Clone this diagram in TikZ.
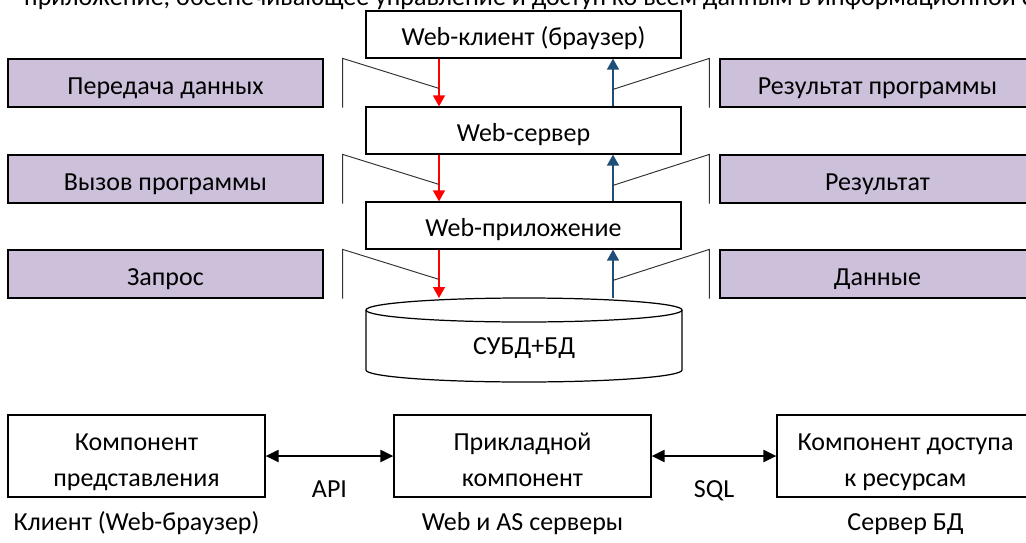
\documentclass[tikz,border=0pt]{standalone}
\usepackage{fontspec}
\setmainfont{Carlito}
\usetikzlibrary{positioning, arrows.meta}

\definecolor{lilac}{RGB}{204,192,218}
\definecolor{upblue}{RGB}{31,78,121}

% struts for the two-line tier boxes
\newcommand\tiertop{\rule{0pt}{0.6cm}}
\newcommand\tierbot{\rule[-0.1cm]{0pt}{0.1cm}}

\tikzset{
  every node/.style={font=\fontsize{14.8}{20.5}\selectfont},
  webbox/.style={draw, line width=0.7pt, minimum width=6.3cm, minimum height=0.94cm, inner sep=0pt, text height=0.42cm, text depth=0pt},
  stagebox/.style={draw, line width=0.7pt, fill=lilac, minimum width=6.3cm, minimum height=0.96cm, inner sep=0pt, text height=0.46cm, text depth=0pt},
  partbox/.style={draw, line width=0.7pt, minimum width=5.14cm, minimum height=1.64cm, align=center, inner sep=0pt},
  reqarrow/.style={red, line width=0.85pt, -{Triangle[length=0.22cm,width=0.24cm]}},
  resarrow/.style={upblue, line width=0.85pt, -{Triangle[length=0.22cm,width=0.24cm]}},
  bracket/.style={draw, line width=0.55pt, black!80},
  linkarrow/.style={line width=1.2pt, {Triangle[length=0.26cm,width=0.24cm]}-{Triangle[length=0.26cm,width=0.24cm]}},
}

\begin{document}
\begin{tikzpicture}
\clip (0,0) rectangle (20.52,10.84);

\node[anchor=base west] (prev) at (0.36,10.73) {приложение, обеспечивающее управление и доступ ко всем данным в информационной системе};

% web chain
\node[webbox] (client) at (10.47,10.15) {Web-клиент (браузер)};
\node[webbox] (server) at (10.47,8.23) {Web-сервер};
\node[webbox] (app) at (10.47,6.33) {Web-приложение};

% database drum
\draw[line width=0.7pt] (7.32,4.64) -- (7.32,3.44) arc[start angle=180, end angle=360, x radius=3.16, y radius=0.24] -- (13.64,4.64);
\draw[line width=0.7pt] (10.48,4.64) ellipse[x radius=3.16, y radius=0.24];
\node (db) at (10.48,3.88) {СУБД+БД};
\coordinate (dbtop) at (10.48,4.88);

\coordinate (down) at (8.78,0);
\coordinate (up) at (12.26,0);

\node[stagebox] (send) at (3.31,9.18) {Передача данных};
\node[stagebox] (call) at (3.31,7.26) {Вызов программы};
\node[stagebox] (query) at (3.31,5.36) {Запрос};
\node[stagebox] (output) at (17.55,9.18) {Результат программы};
\node[stagebox] (result) at (17.55,7.26) {Результат};
\node[stagebox] (data) at (17.55,5.36) {Данные};

\draw[reqarrow] (client.south -| down) -- (server.north -| down);
\draw[reqarrow] (server.south -| down) -- (app.north -| down);
\draw[reqarrow] (app.south -| down) -- (dbtop -| down);
\draw[resarrow] (server.north -| up) -- (client.south -| up);
\draw[resarrow] (app.north -| up) -- (server.south -| up);
\draw[resarrow] (dbtop -| up) -- (app.south -| up);

\foreach \s in {send, call, query}
  \draw[bracket] ([xshift=0.38cm]\s.south east) -- ([xshift=0.38cm]\s.north east) -- ([yshift=-0.6cm]\s.north -| down);
\foreach \s in {output, result, data}
  \draw[bracket] ([xshift=-0.2cm]\s.south west) -- ([xshift=-0.2cm]\s.north west) -- ([yshift=-0.62cm]\s.north -| up);

% three tiers
\node[partbox] (view) at (2.73,1.72) {\tiertop Компонент\\представления\tierbot};
\node[partbox] (logic) at (10.45,1.72) {\tiertop Прикладной\\компонент\tierbot};
\node[partbox] (access) at (18.11,1.72) {\tiertop Компонент доступа\\к ресурсам\tierbot};
\draw[linkarrow] (view) -- node[below=0.35cm] {API} (logic);
\draw[linkarrow] (logic) -- node[below=0.35cm] {SQL} (access);

\node[below=0.65cm of view.south, anchor=base] (viewsite) {Клиент (Web-браузер)};
\node[below=0.65cm of logic.south, anchor=base] (logicsite) {Web и AS серверы};
\node[below=0.65cm of access.south, anchor=base] (accesssite) {Сервер БД};
\end{tikzpicture}
\end{document}
